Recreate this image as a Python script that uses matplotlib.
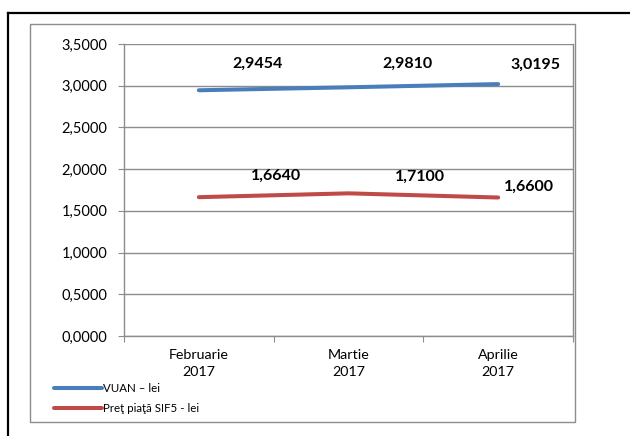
# Recreate the VUAN / SIF5 price line chart
import matplotlib
matplotlib.use("Agg")
import matplotlib.pyplot as plt
from matplotlib.patches import Rectangle
from matplotlib.lines import Line2D
from matplotlib.ticker import FuncFormatter

# Data
months = ["Februarie\n2017", "Martie\n2017", "Aprilie\n2017"]
vuan = [2.9454, 2.9810, 3.0195]
sif5 = [1.6640, 1.7100, 1.6600]
series_names = ["VUAN – lei", "Preţ piaţă SIF5 - lei"]

# Label offsets in pixels (layout only)
vuan_offsets = [(59, 26), (59, 24), (37, 19)]
sif5_offsets = [(77, 21), (71, 17), (31, 11)]

blue = "#4A7EBB"
red = "#BE4B48"
grid_gray = "#8C8C8C"
font = "Lato"

fig = plt.figure(figsize=(6.3, 4.36), dpi=100)

# Outer black frame (only top and left visible)
fig.add_artist(Line2D([8/630, 1.0], [1 - 13/436, 1 - 13/436], transform=fig.transFigure,
                      color="black", lw=1.6))
fig.add_artist(Line2D([8/630, 8/630], [0, 1 - 13/436], transform=fig.transFigure,
                      color="black", lw=1.6))
# Inner gray chart box
fig.add_artist(Rectangle((30/630, 14/436), 545/630, 398/436, transform=fig.transFigure,
                         fill=False, edgecolor=grid_gray, lw=1.0))

ax = fig.add_axes([124/630, 100/436, 449/630, 292/436])
x = list(range(len(months)))
ax.plot(x, vuan, color=blue, lw=2.9, solid_capstyle="round", label=series_names[0])
ax.plot(x, sif5, color=red, lw=2.9, solid_capstyle="round", label=series_names[1])

ax.set_xlim(-0.5, 2.5)
ax.set_ylim(0, 3.5)
ax.set_yticks([i * 0.5 for i in range(8)])
ax.yaxis.set_major_formatter(FuncFormatter(lambda v, p: f"{v:.4f}".replace(".", ",")))
ax.grid(axis="y", color=grid_gray, lw=1.0)
ax.set_axisbelow(True)

# category axis: ticks between categories, labels at centres
ax.set_xticks([-0.5, 0.5, 1.5, 2.5])
ax.set_xticklabels([])
ax.set_xticks(x, minor=True)
ax.set_xticklabels(months, minor=True, fontfamily=font, fontsize=10.3, linespacing=1.55)
ax.tick_params(axis="x", which="major", length=4, color=grid_gray, direction="out")
ax.tick_params(axis="x", which="minor", length=0, pad=9)
ax.tick_params(axis="y", length=4, color=grid_gray, direction="out", pad=8)
for lab in ax.get_yticklabels():
    lab.set_fontfamily(font)
    lab.set_fontsize(10.5)

ax.spines["top"].set_visible(False)
for side in ["left", "bottom", "right"]:
    ax.spines[side].set_color(grid_gray)
    ax.spines[side].set_linewidth(1.0)

# Data labels
for xi, v, off in zip(x, vuan, vuan_offsets):
    ax.annotate(f"{v:.4f}".replace(".", ","), (xi, v), xytext=off, textcoords="offset pixels",
                ha="center", va="center", fontfamily=font, fontweight="bold", fontsize=11.5)
for xi, v, off in zip(x, sif5, sif5_offsets):
    ax.annotate(f"{v:.4f}".replace(".", ","), (xi, v), xytext=off, textcoords="offset pixels",
                ha="center", va="center", fontfamily=font, fontweight="bold", fontsize=11.5)

fig.legend(loc="upper left", bbox_to_anchor=(49/630, 1 - 378/436), frameon=False,
           prop={"family": font, "size": 8.3}, handlelength=4.2, handletextpad=0.1,
           labelspacing=0.85, borderaxespad=0)

fig.savefig("out.png", dpi=100)
